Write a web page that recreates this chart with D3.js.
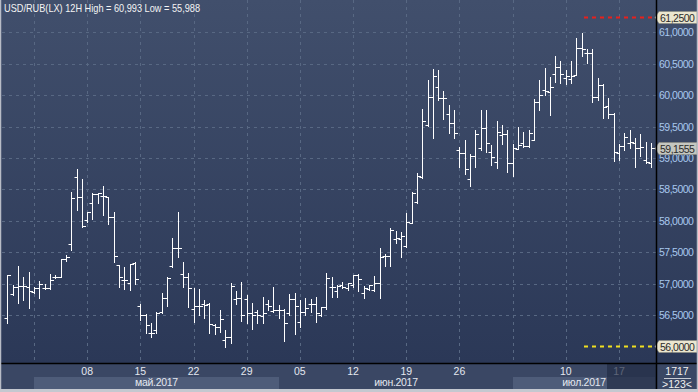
<!DOCTYPE html>
<html><head><meta charset="utf-8">
<script src="https://cdn.jsdelivr.net/npm/d3@7"></script>
<style>body{margin:0;background:#2f3c5a;} svg{display:block;}</style>
</head><body><svg id="c" width="698" height="392"></svg>
<script>
const title = "USD/RUB(LX) 12H High = 60,993 Low = 55,988";
const opens = [56.446,56.828,56.950,56.961,56.950,56.860,56.934,56.923,56.923,57.099,57.109,57.385,57.629,58.691,58.372,58.012,58.288,58.420,58.394,58.372,58.065,57.290,57.056,57.003,57.321,56.647,56.499,56.218,56.260,56.552,56.775,57.279,57.560,57.152,57.099,56.594,56.647,56.674,56.674,56.340,56.313,56.101,56.154,56.748,56.775,56.748,56.525,56.541,56.483,56.669,56.568,56.578,56.578,56.536,56.748,56.393,56.541,56.674,56.674,56.499,56.631,56.939,56.881,56.977,56.923,56.977,57.136,56.854,56.908,56.897,57.014,57.438,57.438,57.704,57.704,57.598,57.969,58.304,58.701,59.524,59.964,60.124,59.948,59.699,59.561,59.126,59.073,58.659,59.030,59.152,59.471,59.099,58.940,59.365,59.375,58.913,59.142,59.243,59.189,59.285,59.895,60.081,60.055,60.336,60.453,60.267,60.256,60.320,60.745,60.676,60.665,59.965,60.161,59.827,59.699,59.083,59.190,59.243,59.243,59.163,58.967,58.914];
const highs = [57.136,56.977,57.279,57.099,57.189,56.950,57.045,56.993,57.152,57.136,57.385,57.454,58.463,58.818,58.659,58.144,58.436,58.447,58.553,58.383,58.134,57.300,57.258,57.311,57.337,56.669,56.510,56.366,56.552,56.844,57.109,57.720,58.144,57.348,57.162,56.923,56.913,56.738,56.685,56.350,56.578,56.260,57.003,56.881,57.019,56.817,56.685,56.578,56.791,56.738,56.939,56.658,56.590,56.833,56.844,56.738,56.764,56.748,56.780,56.631,57.162,57.109,56.977,57.030,57.014,57.136,57.146,56.961,56.977,57.120,57.560,57.465,57.879,57.842,57.826,58.118,58.463,58.755,59.773,60.240,60.410,60.400,60.065,59.842,59.763,59.179,59.285,59.062,59.444,59.763,59.763,59.205,59.588,59.524,59.444,59.221,59.497,59.418,59.444,59.932,60.240,60.426,60.283,60.628,60.548,60.400,60.548,60.904,60.993,60.729,60.729,60.267,60.170,59.949,59.710,59.222,59.391,59.444,59.312,59.381,59.259,59.232];
const lows = [56.366,56.817,56.695,56.738,56.616,56.844,56.764,56.908,56.913,57.090,57.099,57.364,57.534,58.171,57.905,57.985,58.022,58.288,58.091,57.943,57.348,56.939,56.908,56.892,56.993,56.419,56.207,56.154,56.207,56.525,56.647,57.270,57.428,56.939,56.631,56.393,56.499,56.446,56.207,56.196,56.233,55.988,56.058,56.669,56.409,56.377,56.271,56.377,56.366,56.578,56.552,56.446,56.090,56.499,56.196,56.313,56.499,56.552,56.393,56.483,56.589,56.791,56.791,56.923,56.897,56.950,56.886,56.764,56.897,56.886,56.775,57.284,57.279,57.640,57.417,57.587,57.960,58.288,58.675,59.508,59.322,59.922,59.619,59.391,59.322,58.860,58.744,58.553,58.860,59.126,59.099,58.887,58.834,59.221,58.781,58.712,59.136,59.179,59.179,59.285,59.763,60.001,59.683,60.214,60.187,60.171,60.187,60.320,60.623,60.506,59.896,59.922,59.630,59.630,58.956,58.967,59.126,59.152,58.861,59.031,58.914,58.861];
const closes = [57.136,56.950,56.961,56.961,56.886,56.934,56.993,56.923,57.056,57.109,57.385,57.428,58.357,58.372,57.921,58.144,58.420,58.436,58.394,58.065,57.444,57.099,57.056,57.311,57.072,56.499,56.340,56.218,56.536,56.775,57.083,57.560,57.560,57.099,56.923,56.647,56.647,56.658,56.356,56.313,56.430,56.154,56.961,56.775,56.499,56.525,56.499,56.499,56.525,56.647,56.578,56.578,56.377,56.748,56.642,56.541,56.605,56.669,56.525,56.631,57.083,56.939,56.961,56.939,57.014,57.136,57.072,56.923,56.977,57.014,57.428,57.438,57.852,57.720,57.757,57.985,58.447,58.712,59.588,59.964,60.304,59.948,59.948,59.561,59.391,59.073,58.823,59.030,59.380,59.471,59.232,59.020,59.418,59.375,58.924,59.163,59.205,59.189,59.391,59.895,60.001,60.065,60.134,60.453,60.336,60.304,60.304,60.745,60.729,60.665,59.975,60.161,59.816,59.699,59.099,59.190,59.338,59.248,59.163,59.168,58.940,59.1555];
const yTickValues = [56.5,57,57.5,58,58.5,59,59.5,60,60.5,61];
const weekIndex = [5,15,25,35,45,55,65,75,85,95,105,115];
const weekLabels = ["","08","15","22","29","05","12","19","26","","10","17"];
const monthNames = ["май.2017","июн.2017","июл.2017"];
const monthStart = [5,51,95];
const monthEnd = [51,95,122];
const monthShaded = [true,false,true];
const levelValues = [61.25,56.0];
const levelColors = ["#e8201c","#f0e020"];
const lastPrice = 59.1555;
const cornerTop = "1717", cornerBottom = ">123<";

const fmt = v => v.toFixed(4).replace(".", ",");
const svg = d3.select("#c");
const W = 698, H = 392, plotR = 656, plotB = 363;
const x = d3.scaleLinear().domain([0, 121]).range([7.4, 7.4 + 121*5.318]);
const y = d3.scaleLinear().domain([56, 61]).range([346.3, 32.3]);

const defs = svg.append("defs");
const g1 = defs.append("linearGradient").attr("id","bg").attr("x1",0).attr("y1",0).attr("x2",0).attr("y2",1);
g1.append("stop").attr("offset","0%").attr("stop-color","#414f6c");
g1.append("stop").attr("offset","100%").attr("stop-color","#2b3857");
svg.append("rect").attr("width",W).attr("height",plotB).attr("fill","url(#bg)");
svg.append("rect").attr("y",plotB).attr("width",W).attr("height",H-plotB).attr("fill","#3a4764");

// grid
const grid = svg.append("g").attr("stroke","#586883").attr("stroke-dasharray","3,4").attr("stroke-width",1);
grid.selectAll("line.h").data(yTickValues).join("line")
  .attr("x1",2).attr("x2",plotR).attr("y1",d=>Math.round(y(d))+0.5).attr("y2",d=>Math.round(y(d))+0.5);
grid.selectAll("line.v").data(weekIndex).join("line")
  .attr("x1",d=>Math.round(x(d))+0.5).attr("x2",d=>Math.round(x(d))+0.5).attr("y1",0).attr("y2",plotB);

// level lines
svg.selectAll("line.lvl").data(levelValues).join("line")
  .attr("x1",584).attr("x2",plotR-1).attr("y1",d=>Math.round(y(d))+0.5).attr("y2",d=>Math.round(y(d))+0.5)
  .attr("stroke",(d,i)=>levelColors[i]).attr("stroke-width",2).attr("stroke-dasharray","4,4");

// bars
const bars = svg.append("g").attr("stroke","#ffffff").attr("stroke-width",1).attr("fill","none");
closes.forEach((c,i)=>{
  const cx = Math.round(x(i))+0.5;
  bars.append("line").attr("x1",cx).attr("x2",cx).attr("y1",Math.round(y(highs[i]))).attr("y2",Math.round(y(lows[i]))+1);
  const oy = Math.round(y(opens[i]))+0.5, cy = Math.round(y(c))+0.5;
  bars.append("line").attr("x1",cx-3).attr("x2",cx).attr("y1",oy).attr("y2",oy);
  bars.append("line").attr("x1",cx).attr("x2",cx+3.5).attr("y1",cy).attr("y2",cy);
});

// right axis labels
const ax = svg.append("g").attr("font-family","Liberation Sans, Arial, sans-serif").attr("font-size",10.5);
ax.selectAll("text").data(yTickValues).join("text")
  .attr("x",659).attr("y",d=>y(d)+4).attr("fill","#a8c8ee").attr("letter-spacing",-0.5).text(fmt);

// tags
function tag(v, fill){
  const yc = Math.round(y(v))+0.5;
  svg.append("path").attr("d",`M${plotR-1},${yc} L${plotR+3},${yc-6} L${W-1},${yc-6} L${W-1},${yc+6} L${plotR+3},${yc+6} Z`)
    .attr("fill",fill).attr("stroke","#8a8a80").attr("stroke-width",0.6);
  svg.append("text").attr("x",660).attr("y",yc+4).attr("font-family","Liberation Sans, Arial, sans-serif")
    .attr("font-size",10.5).attr("letter-spacing",-0.5).attr("fill","#2a2a2a").text(fmt(v));
}
levelValues.forEach(v=>tag(v,"#ebe6cf"));
tag(lastPrice,"#c4c6c0");

// month bands
const mb = svg.append("g");
monthNames.forEach((m,i)=>{
  const x0 = Math.round(x(monthStart[i])), x1 = Math.min(plotR-1, Math.round(x(monthEnd[i])));
  if(monthShaded[i]) mb.append("rect").attr("x",x0).attr("y",377).attr("width",x1-x0).attr("height",13).attr("fill","#4e5c79");
  mb.append("text").attr("x",(x0+x1)/2).attr("y",386).attr("text-anchor","middle")
    .attr("font-family","Liberation Sans, Arial, sans-serif").attr("font-size",10.5).attr("letter-spacing",-0.3)
    .attr("fill","#e4e8f0").text(m);
});
// week labels
svg.append("g").selectAll("text").data(weekIndex).join("text")
  .attr("x",d=>x(d)).attr("y",375).attr("text-anchor","middle")
  .attr("font-family","Liberation Sans, Arial, sans-serif").attr("font-size",10.5)
  .attr("fill","#e4e8f0").text((d,i)=>weekLabels[i]);
// dark overlay on bottom-right of time axis
svg.append("rect").attr("x",607).attr("y",364).attr("width",plotR-607).attr("height",26).attr("fill","#222c44").attr("opacity",0.7);

// frame lines
svg.append("line").attr("x1",0).attr("x2",W).attr("y1",plotB+0.5).attr("y2",plotB+0.5).attr("stroke","#000").attr("stroke-width",1.5);
svg.append("line").attr("x1",plotR+0.5).attr("x2",plotR+0.5).attr("y1",0).attr("y2",H).attr("stroke","#000").attr("stroke-width",1.5);

// corner
svg.append("text").attr("x",677).attr("y",375).attr("text-anchor","middle").attr("font-family","Liberation Sans, Arial, sans-serif")
  .attr("font-size",10.5).attr("fill","#f0f0f0").text(cornerTop);
svg.append("line").attr("x1",664).attr("x2",691).attr("y1",378.5).attr("y2",378.5).attr("stroke","#c8ccd4").attr("stroke-width",1);
svg.append("text").attr("x",677).attr("y",388).attr("text-anchor","middle").attr("font-family","Liberation Sans, Arial, sans-serif")
  .attr("font-size",10.5).attr("fill","#f0f0f0").text(cornerBottom);

// title
svg.append("text").attr("x",4).attr("y",12).attr("font-family","Liberation Sans, Arial, sans-serif").attr("font-size",10.5)
  .attr("fill","#f4f4f4").attr("textLength",196).attr("lengthAdjust","spacingAndGlyphs").text(title);

// outer border
svg.append("rect").attr("x",0.5).attr("y",-1).attr("width",W-1).attr("height",H-0.5).attr("fill","none").attr("stroke","#b8bcc6").attr("stroke-width",1.5);
svg.append("line").attr("x1",0).attr("x2",W).attr("y1",H-1.5).attr("y2",H-1.5).attr("stroke","#c4c8d0").attr("stroke-width",3);
</script></body></html>
